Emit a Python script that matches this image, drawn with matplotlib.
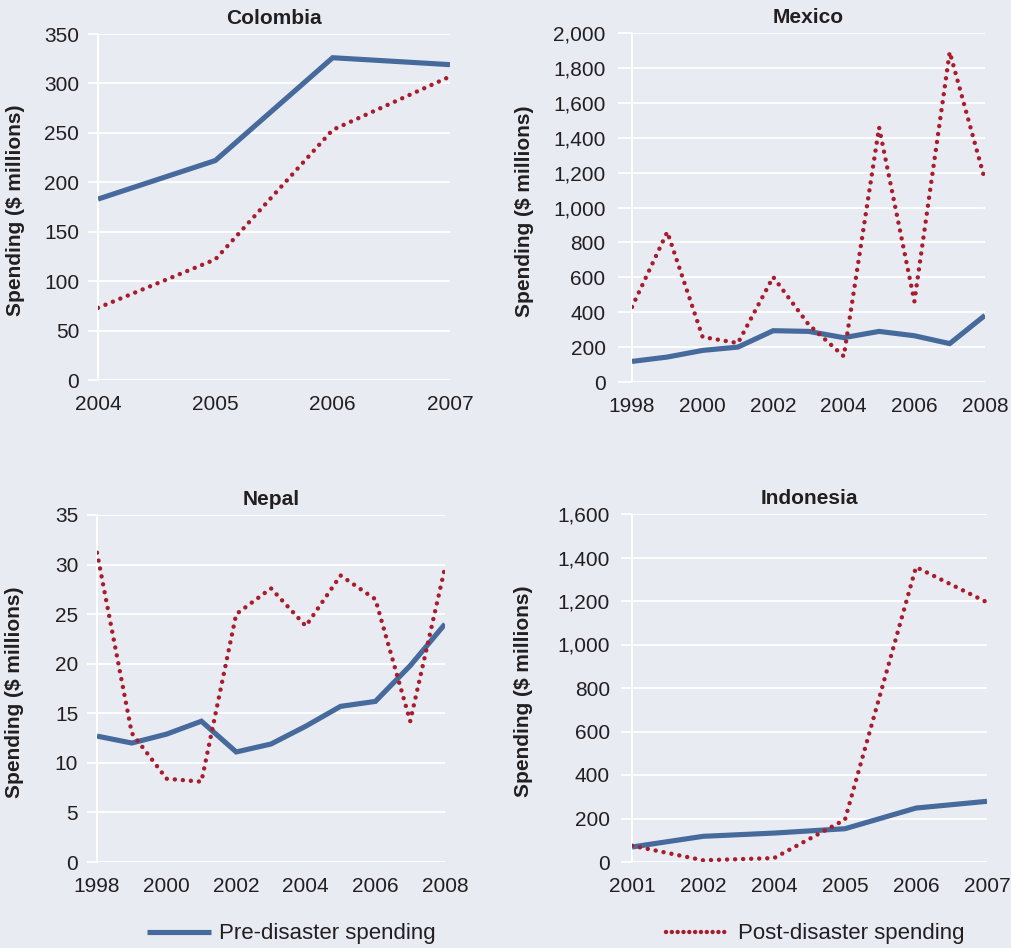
import matplotlib
matplotlib.use("Agg")
import matplotlib.pyplot as plt
from matplotlib.ticker import FuncFormatter
from matplotlib.lines import Line2D

plt.rcParams['font.family'] = ['Liberation Sans', 'DejaVu Sans']

# ---- data ----
col_years = [2004, 2005, 2006, 2007]
col_pre = [183, 222, 326, 319]
col_post = [73, 122, 253, 307]

mex_years = [1998, 1999, 2000, 2001, 2002, 2003, 2004, 2005, 2006, 2007, 2008]
mex_pre = [118, 143, 181, 200, 294, 290, 254, 290, 265, 220, 382]
mex_post = [430, 860, 258, 223, 602, 330, 147, 1459, 462, 1891, 1157]

nep_years = [1998, 1999, 2000, 2001, 2002, 2003, 2004, 2005, 2006, 2007, 2008]
nep_pre = [12.7, 12.0, 12.9, 14.2, 11.1, 11.9, 13.7, 15.7, 16.2, 19.8, 24.0]
nep_post = [31.2, 13.0, 8.4, 8.1, 25.0, 27.6, 23.8, 28.9, 26.5, 14.2, 29.7]

ind_labels = ['2001', '2002', '2004', '2005', '2006', '2007']
ind_pre = [69, 118, 133, 153, 248, 279]
ind_post = [75, 8, 18, 195, 1356, 1194]

titles = ['Colombia', 'Mexico', 'Nepal', 'Indonesia']
ylabel = 'Spending ($ millions)'
legend_labels = ['Pre-disaster spending', 'Post-disaster spending']

# ---- style ----
BG = '#e8ebf2'
BLUE = '#466a9b'
RED = '#a81c2c'
TXT = '#231f20'
W, H = 1012, 948

fig = plt.figure(figsize=(W / 100, H / 100), dpi=100, facecolor=BG)


def px_axes(l, t, r, b):
    return fig.add_axes([l / W, 1 - b / H, (r - l) / W, (b - t) / H])


def style(ax, title, ymax, ystep, comma, labx, ticklen=7.5, tickpad=6):
    ax.set_facecolor(BG)
    for s in ['top', 'right', 'bottom']:
        ax.spines[s].set_visible(False)
    ax.spines['left'].set_color('white')
    ax.spines['left'].set_linewidth(1.5)
    ax.set_ylim(0, ymax)
    ax.set_yticks([v for v in range(0, int(ymax) + 1, ystep)])
    if comma:
        ax.yaxis.set_major_formatter(FuncFormatter(lambda v, p: f'{int(v):,}'))
    ax.yaxis.grid(True, color='white', linewidth=1.3)
    ax.set_axisbelow(True)
    ax.tick_params(axis='y', length=ticklen, width=1.3, color='white',
                   pad=tickpad, labelsize=15, labelcolor=TXT)
    ax.tick_params(axis='x', length=0, pad=11, labelsize=15, labelcolor=TXT)
    ax.set_title(title, fontsize=15, fontweight='bold', color=TXT, pad=7)
    ax.set_ylabel(ylabel, fontsize=15, fontweight='bold', color=TXT)
    ax.yaxis.set_label_coords(labx, 0.49)


def draw(ax, x, pre, post):
    ax.plot(x, pre, color=BLUE, linewidth=3.7, solid_capstyle='butt',
            solid_joinstyle='miter', zorder=3)
    ax.plot(x, post, color=RED, linewidth=3.2, linestyle=(0, (0.01, 1.8)),
            dash_capstyle='round', zorder=4)


# Colombia
ax1 = px_axes(98, 34, 450, 380)
draw(ax1, col_years, col_pre, col_post)
ax1.set_xlim(col_years[0], col_years[-1])
ax1.set_xticks(col_years)
style(ax1, titles[0], 350, 50, False, -0.207)

# Mexico
ax2 = px_axes(632, 33, 985, 382)
draw(ax2, mex_years, mex_pre, mex_post)
ax2.set_xlim(mex_years[0], mex_years[-1])
ax2.set_xticks(mex_years[::2])
style(ax2, titles[1], 2000, 200, True, -0.278, ticklen=10, tickpad=9)

# Nepal
ax3 = px_axes(97, 515, 445, 862)
draw(ax3, nep_years, nep_pre, nep_post)
ax3.set_xlim(nep_years[0], nep_years[-1])
ax3.set_xticks(nep_years[::2])
style(ax3, titles[2], 35, 5, False, -0.21)

# Indonesia (categorical)
ax4 = px_axes(632, 514, 987, 862)
xi = list(range(len(ind_labels)))
draw(ax4, xi, ind_pre, ind_post)
ax4.set_xlim(xi[0], xi[-1])
ax4.set_xticks(xi)
ax4.set_xticklabels(ind_labels)
style(ax4, titles[3], 1600, 200, True, -0.279, ticklen=8, tickpad=8)

# Legend
leg_font = {'family': ['Liberation Sans', 'DejaVu Sans'], 'size': 16}
h1 = Line2D([], [], color=BLUE, linewidth=3.7, solid_capstyle='butt')
h2 = Line2D([], [], color=RED, linewidth=3.2, linestyle=(0, (0.01, 1.3)),
            dash_capstyle='round')
l1 = fig.legend([h1], [legend_labels[0]], loc='center left',
                bbox_to_anchor=(140 / W, 1 - 934 / H), frameon=False,
                handlelength=2.9, handletextpad=0.35, prop=leg_font,
                borderaxespad=0, borderpad=0.3)
l2 = fig.legend([h2], [legend_labels[1]], loc='center left',
                bbox_to_anchor=(659 / W, 1 - 934 / H), frameon=False,
                handlelength=2.9, handletextpad=0.35, prop=leg_font,
                borderaxespad=0, borderpad=0.3)
for lg in (l1, l2):
    for t in lg.get_texts():
        t.set_color(TXT)

fig.savefig('out.png', dpi=100, facecolor=BG)
